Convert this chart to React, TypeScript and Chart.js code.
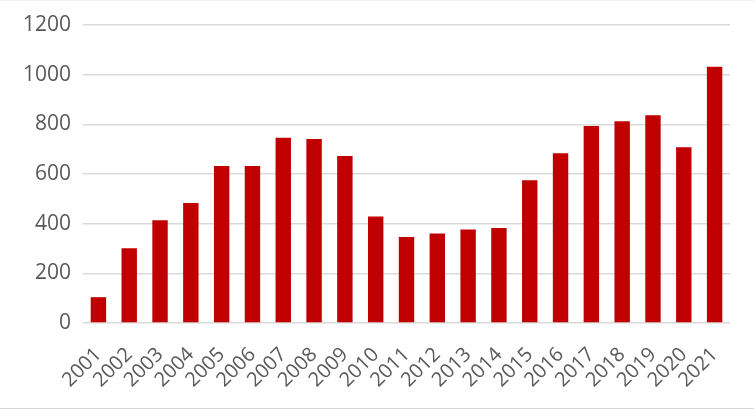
import React, { useEffect, useRef } from "react";
import { Chart, registerables } from "chart.js";

Chart.register(...registerables);

const years = ["2001","2002","2003","2004","2005","2006","2007","2008","2009","2010","2011","2012","2013","2014","2015","2016","2017","2018","2019","2020","2021"];
const values = [104, 301, 414, 483, 632, 632, 746, 741, 672, 429, 346, 360, 377, 383, 575, 684, 793, 812, 837, 708, 1032];
const yMax = 1200;
const yStep = 200;

export default function App() {
  const ref = useRef<HTMLCanvasElement>(null);
  useEffect(() => {
    document.body.style.margin = "0";
    const font = { family: "'Open Sans', 'Liberation Sans', sans-serif", size: 20 };
    const chart = new Chart(ref.current!, {
      type: "bar",
      data: {
        labels: years,
        datasets: [{ data: values, backgroundColor: "#C00000", borderWidth: 0, barPercentage: 0.5, categoryPercentage: 1 }],
      },
      options: {
        animation: false,
        responsive: false,
        maintainAspectRatio: false,
        layout: { padding: { left: 0, right: 24, top: 25, bottom: 0 } },
        plugins: { legend: { display: false }, tooltip: { enabled: false } },
        scales: {
          x: {
            grid: { display: false, drawTicks: false },
            border: { display: false },
            ticks: { color: "#595959", font, minRotation: 45, maxRotation: 45, autoSkip: false, padding: 20 },
            afterFit: (s: any) => { s.height = 87; },
          },
          y: {
            min: 0,
            max: yMax,
            grid: { color: "#d9d9d9", lineWidth: 1.5, drawTicks: false },
            border: { display: false },
            ticks: { stepSize: yStep, color: "#595959", font: { ...font, size: 21 }, padding: 12, callback: (v: any) => String(v) },
            afterFit: (s: any) => { s.width = 83; },
          },
        },
      },
    });
    return () => chart.destroy();
  }, []);
  return (
    <div style={{ width: 754, height: 410, position: "relative", background: "#fff" }}>
      <canvas ref={ref} width={754} height={410} style={{ display: "block" }} />
      <div style={{ position: "absolute", left: 0, top: 0, width: 754, height: 1, background: "#f0f0f0" }} />
      <div style={{ position: "absolute", left: 0, top: 408, width: 754, height: 1, background: "#d9d9d9" }} />
    </div>
  );
}
